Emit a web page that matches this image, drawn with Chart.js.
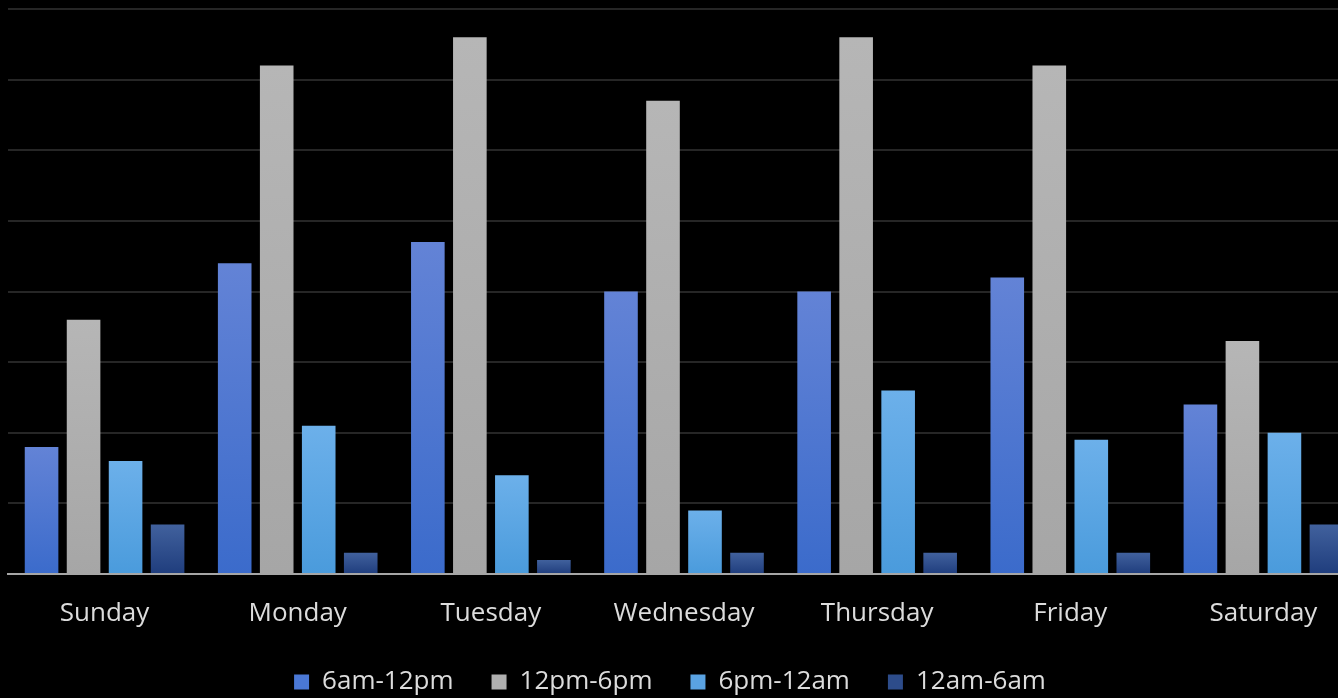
<!DOCTYPE html>
<html>
<head>
<meta charset="utf-8">
<script src="https://cdn.jsdelivr.net/npm/chart.js@4"></script>
<style>
  html, body { margin: 0; padding: 0; background: #000; overflow: hidden; }
  #frame { width: 1338px; height: 698px; overflow: hidden; position: relative; }
  #wrap { width: 1360px; height: 705px; position: absolute; left: 0; top: 0; }
</style>
</head>
<body>
<div id="frame"><div id="wrap"><canvas id="dayChart"></canvas></div></div>
<script>
const days = ['Sunday', 'Monday', 'Tuesday', 'Wednesday', 'Thursday', 'Friday', 'Saturday']
const seriesNames = ['6am-12pm', '12pm-6pm', '6pm-12am', '12am-6am']
const morning = [18, 44, 47, 40, 40, 42, 24]
const afternoon = [36, 72, 76, 67, 76, 72, 33]
const evening = [16, 21, 14, 9, 26, 19, 20]
const night = [7, 3, 2, 3, 3, 3, 7]
const yTicks = [0, 10, 20, 30, 40, 50, 60, 70, 80]

const topColors = ['#6383d6', '#b6b6b6', '#6cb0ea', '#41619d']
const bottomColors = ['#3b6bcb', '#a6a6a6', '#4a9bdc', '#1f3d7d']
const legendColors = ['#4a78d6', '#b0b0b0', '#5aa3e3', '#2d4c8a']

// each bar gets its own vertical gradient, lighter at the top
function barFill(i) {
    return function(ctx) {
        const chart = ctx.chart
        const area = chart.chartArea
        if (!area || ctx.type !== 'data') return bottomColors[i]
        const yTop = chart.scales.y.getPixelForValue(ctx.raw)
        const g = chart.ctx.createLinearGradient(0, yTop, 0, area.bottom)
        g.addColorStop(0, topColors[i])
        g.addColorStop(1, bottomColors[i])
        return g
    }
}

// legend sits a little left of the plot centre in the original
const legendShift = {
    id: 'legendShift',
    afterLayout(chart) {
        chart.legend.left -= 14
        chart.legend.right -= 14
    }
}

const values = [morning, afternoon, evening, night]
const ctx = document.getElementById('dayChart').getContext('2d')
const myChart = new Chart(ctx, {
    type: 'bar',
    data: {
        labels: days,
        datasets: values.map((v, i) => ({
            label: seriesNames[i],
            data: v,
            backgroundColor: barFill(i),
            borderWidth: 0,
            categoryPercentage: 0.87,
            barPercentage: 0.8
        }))
    },
    plugins: [legendShift],
    options: {
        responsive: true,
        maintainAspectRatio: false,
        animation: false,
        layout: { padding: { top: 9, left: 8, right: 0, bottom: 0 } },
        plugins: {
            tooltip: { enabled: false },
            legend: {
                position: 'bottom',
                labels: {
                    color: '#dcdcdc',
                    font: { family: 'Open Sans', size: 26 },
                    boxWidth: 15,
                    boxHeight: 15,
                    padding: 38,
                    generateLabels(chart) {
                        const items = Chart.defaults.plugins.legend.labels.generateLabels(chart)
                        items.forEach((it, i) => {
                            it.fillStyle = legendColors[i]
                            it.strokeStyle = legendColors[i]
                            it.lineWidth = 0
                        })
                        return items
                    }
                }
            }
        },
        scales: {
            x: {
                grid: { display: false, drawTicks: false },
                border: { display: true, color: '#a6a6a6', width: 2 },
                ticks: {
                    color: '#dcdcdc',
                    font: { family: 'Open Sans', size: 26 },
                    padding: 24,
                    maxRotation: 0
                },
                afterFit(axis) {
                    axis.height = 57
                }
            },
            y: {
                min: 0,
                max: 80,
                afterBuildTicks(axis) {
                    axis.ticks = yTicks.map(v => ({ value: v }))
                },
                grid: { color: '#262626', lineWidth: 2, drawTicks: false },
                border: { display: false },
                ticks: { display: false }
            }
        }
    }
})
</script>
</body>
</html>
